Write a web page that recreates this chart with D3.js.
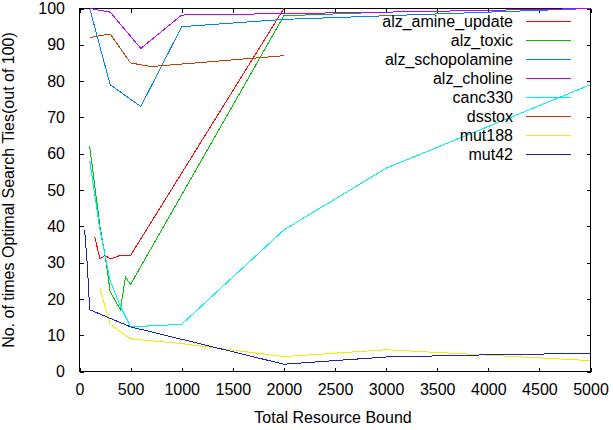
<!DOCTYPE html>
<html>
<head>
<meta charset="utf-8">
<script src="https://cdn.jsdelivr.net/npm/d3@7"></script>
<style>
  html, body { margin: 0; padding: 0; background: #fff; }
  svg { display: block; }
  text { font-family: "Liberation Sans", Arial, sans-serif; font-size: 16px; fill: #000; }
</style>
</head>
<body>
<svg id="chart" width="613" height="430"></svg>
<script>
// ---- data ----
const seriesNames = ["alz_amine_update", "alz_toxic", "alz_schopolamine", "alz_choline",
                     "canc330", "dsstox", "mut188", "mut42"];
const seriesColors = ["#ff0000", "#00c000", "#0080ff", "#c000ff",
                      "#00eeee", "#c04000", "#eeee00", "#2020c0"];

const aminePoints_x = [150, 200, 250, 300, 400, 500, 2000];
const aminePoints_y = [37, 31, 32, 31, 32, 32, 100];

const toxicPoints_x = [100, 200, 250, 300, 400, 450, 500, 2000, 3000, 4000, 5000];
const toxicPoints_y = [62, 40, 32, 22, 17, 26, 24, 98, 99, 99.5, 100];

const schopPoints_x = [100, 300, 600, 1000, 2000, 3000, 4000, 5000];
const schopPoints_y = [100, 79, 73, 95, 97, 98, 99, 100];

const cholinePoints_x = [100, 300, 600, 1000, 2000, 3000, 4000, 5000];
const cholinePoints_y = [100, 99, 89, 98.2, 98.6, 99, 99.5, 100];

const canc330Points_x = [100, 200, 300, 400, 500, 1000, 2000, 3000, 4000, 5000];
const canc330Points_y = [58, 39, 25, 18, 12.3, 13, 39, 56, 67.5, 79];

const dsstoxPoints_x = [100, 300, 500, 700, 2000];
const dsstoxPoints_y = [92, 93, 85, 84, 87];

const mut188Points_x = [200, 300, 500, 1000, 2000, 3000, 4000, 5000];
const mut188Points_y = [23, 13, 9, 7.7, 4.1, 6.0, 4.5, 3.0];

const mut42Points_x = [50, 75, 100, 500, 2000, 3000, 4000, 5000];
const mut42Points_y = [39, 30, 17, 12.3, 2, 4, 4.6, 5];

const xTicks = [0, 500, 1000, 1500, 2000, 2500, 3000, 3500, 4000, 4500, 5000];
const yTicks = [0, 10, 20, 30, 40, 50, 60, 70, 80, 90, 100];

const xLabel = "Total Resource Bound";
const yLabel = "No. of times Optimal Search Ties(out of 100)";

// ---- build series table ----
const allX = [aminePoints_x, toxicPoints_x, schopPoints_x, cholinePoints_x,
              canc330Points_x, dsstoxPoints_x, mut188Points_x, mut42Points_x];
const allY = [aminePoints_y, toxicPoints_y, schopPoints_y, cholinePoints_y,
              canc330Points_y, dsstoxPoints_y, mut188Points_y, mut42Points_y];
const series = seriesNames.map((name, i) => ({
  name, color: seriesColors[i],
  points: allX[i].map((xv, j) => ({ x: xv, y: allY[i][j] }))
}));

// ---- layout ----
const pL = 79.5, pR = 590.5, pT = 8.5, pB = 371.5;
const svg = d3.select("#chart");

const x = d3.scaleLinear().domain([0, 5000]).range([pL, pR]);
const y = d3.scaleLinear().domain([0, 100]).range([pB, pT]);

// border
svg.append("rect")
  .attr("x", pL).attr("y", pT)
  .attr("width", pR - pL).attr("height", pB - pT)
  .attr("fill", "none").attr("stroke", "#000").attr("stroke-width", 1)
  .attr("shape-rendering", "crispEdges");

// axes (inward ticks on all sides)
const gx = svg.append("g").attr("transform", `translate(0,${pB})`)
  .call(d3.axisBottom(x).tickValues(xTicks).tickSizeInner(-4).tickSizeOuter(0)
        .tickPadding(12.5).tickFormat(d3.format("d")));
const gy = svg.append("g").attr("transform", `translate(${pL},0)`)
  .call(d3.axisLeft(y).tickValues(yTicks).tickSizeInner(-4).tickSizeOuter(0)
        .tickPadding(14.5).tickFormat(d3.format("d")));
const gt = svg.append("g").attr("transform", `translate(0,${pT})`)
  .call(d3.axisTop(x).tickValues(xTicks).tickSizeInner(-4).tickSizeOuter(0).tickFormat(""));
const gr = svg.append("g").attr("transform", `translate(${pR},0)`)
  .call(d3.axisRight(y).tickValues(yTicks).tickSizeInner(-4).tickSizeOuter(0).tickFormat(""));

[gx, gy, gt, gr].forEach(g => {
  g.select(".domain").remove();
  g.selectAll(".tick line").attr("stroke", "#000").attr("shape-rendering", "crispEdges");
  g.selectAll(".tick text")
    .style("font-family", '"Liberation Sans", Arial, sans-serif')
    .style("font-size", "16px").attr("fill", "#000");
  g.attr("font-size", null).attr("font-family", null);
});

// axis titles
svg.append("text")
  .attr("x", (pL + pR) / 2 - 2).attr("y", 423)
  .attr("text-anchor", "middle").text(xLabel);
svg.append("text")
  .attr("transform", `translate(14,${(pT + pB) / 2}) rotate(-90)`)
  .attr("text-anchor", "middle").text(yLabel);

// lines
const line = d3.line().x(d => x(d.x)).y(d => y(d.y));
svg.append("g").selectAll("path").data(series).join("path")
  .attr("d", d => line(d.points))
  .attr("fill", "none")
  .attr("stroke", d => d.color)
  .attr("stroke-width", 1)
  .attr("shape-rendering", "crispEdges");

// legend
const legend = svg.append("g");
series.forEach((s, i) => {
  const yy = 21.5 + 19 * i;
  legend.append("text")
    .attr("x", 513).attr("y", yy + 5.5)
    .attr("text-anchor", "end").text(s.name);
  legend.append("line")
    .attr("x1", 526).attr("x2", 571).attr("y1", yy).attr("y2", yy)
    .attr("stroke", s.color).attr("stroke-width", 1)
    .attr("shape-rendering", "crispEdges");
});
</script>
</body>
</html>
